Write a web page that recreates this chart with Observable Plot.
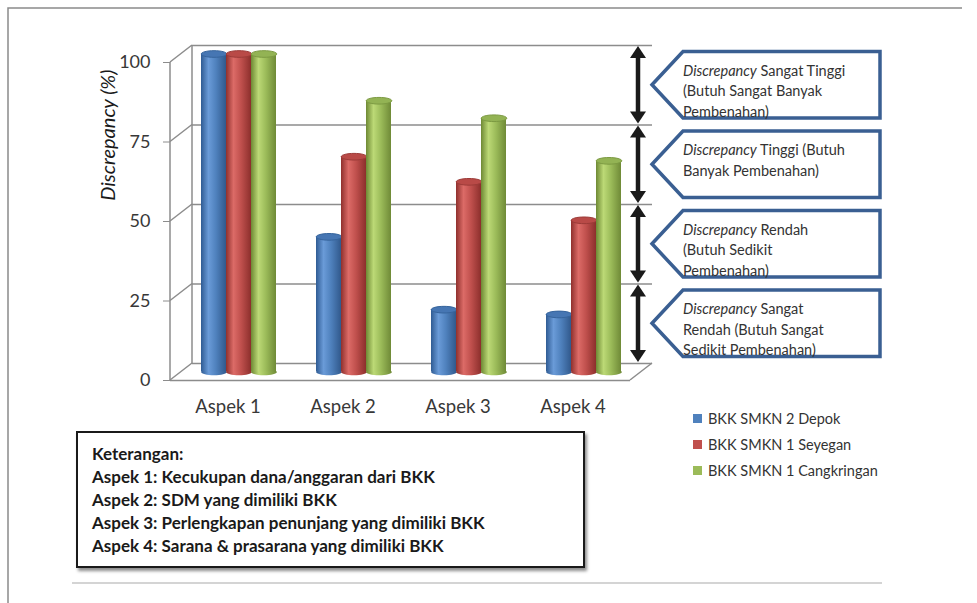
<!DOCTYPE html>
<html>
<head>
<meta charset="utf-8">
<script src="https://cdn.jsdelivr.net/npm/d3@7"></script>
<script src="https://cdn.jsdelivr.net/npm/@observablehq/plot@0.6"></script>
<style>
  html, body { margin: 0; padding: 0; background: #fff; }
  #wrap { position: relative; width: 977px; height: 603px; overflow: hidden; font-family: Lato, "Open Sans", sans-serif; }
  #chart { position: absolute; left: 0; top: 0; }
  #ket { position: absolute; left: 76px; top: 431px; width: 491px; height: 124px; border: 2px solid #1a1a1a;
         box-shadow: 2px 3px 3px rgba(0,0,0,0.45); background: #fff; padding: 9px 0 0 14px;
         font-weight: bold; font-size: 17px; line-height: 23px; color: #1a1a1a; }
  #legend { position: absolute; left: 693px; top: 405px; font-size: 14.5px; color: #333; }
  #legend .row { height: 26px; display: flex; align-items: center; }
  #legend .sw { width: 9px; height: 9px; margin-right: 6px; }
</style>
</head>
<body>
<svg width="0" height="0" style="position:absolute">
  <defs>
    <linearGradient id="g0" x1="0" x2="1" y1="0" y2="0">
      <stop offset="0" stop-color="#2f5b93"/><stop offset="0.3" stop-color="#6a9bd8"/>
      <stop offset="0.6" stop-color="#4f81bd"/><stop offset="1" stop-color="#31598c"/>
    </linearGradient>
    <linearGradient id="g1" x1="0" x2="1" y1="0" y2="0">
      <stop offset="0" stop-color="#8f302d"/><stop offset="0.3" stop-color="#dc6b67"/>
      <stop offset="0.6" stop-color="#c0504d"/><stop offset="1" stop-color="#8c2f2c"/>
    </linearGradient>
    <linearGradient id="g2" x1="0" x2="1" y1="0" y2="0">
      <stop offset="0" stop-color="#6e8934"/><stop offset="0.3" stop-color="#bcd976"/>
      <stop offset="0.6" stop-color="#9bbb59"/><stop offset="1" stop-color="#6f8a37"/>
    </linearGradient>
  </defs>
</svg>
<div id="wrap">
  <div id="chart"></div>
  <div id="legend"></div>
  <div id="ket"></div>
</div>
<script>
// ---------- data ----------
const aspects = ["Aspek 1", "Aspek 2", "Aspek 3", "Aspek 4"];
const seriesNames = ["BKK SMKN 2 Depok", "BKK SMKN 1 Seyegan", "BKK SMKN 1 Cangkringan"];
const depok = [100, 42.5, 19.6, 18.1];
const seyegan = [100, 67.7, 59.8, 47.7];
const cangkringan = [100, 85.3, 79.8, 66.4];
const yTicks = [0, 25, 50, 75, 100];
const seriesColors = ["#4f81bd", "#c0504d", "#9bbb59"];
const topColors = ["#4676b3", "#b94a47", "#93b354"];
const topStrokes = ["#36649c", "#9c3b38", "#7c9a42"];
const calloutLo = [0, 25, 50, 75];
const calloutHi = [25, 50, 75, 100];
const calloutLines = [
  ["Discrepancy Sangat", "Rendah (Butuh Sangat", "Sedikit Pembenahan)"],
  ["Discrepancy Rendah", "(Butuh Sedikit", "Pembenahan)"],
  ["Discrepancy Tinggi (Butuh", "Banyak Pembenahan)"],
  ["Discrepancy Sangat Tinggi", "(Butuh Sangat Banyak", "Pembenahan)"]
];
const yTitle = "Discrepancy (%)";
const keterangan = [
  "Keterangan:",
  "Aspek 1: Kecukupan dana/anggaran dari BKK",
  "Aspek 2: SDM yang dimiliki BKK",
  "Aspek 3: Perlengkapan penunjang yang dimiliki BKK",
  "Aspek 4: Sarana & prasarana yang dimiliki BKK"
];

const valuesBySeries = [depok, seyegan, cangkringan];
const table = aspects.flatMap((a, i) => seriesNames.map((s, j) => ({aspek: a, series: s, si: j, value: valuesBySeries[j][i]})));

// ---------- layout ----------
const W = 977, H = 603, mL = 170, mR = 347, mT = 62, mB = 223;
const DX = 22, DY = -17;      // depth of the 3D box
const BX = 11, BY = -8.5;     // bars sit mid-depth
const GRID = "#8c8c8c";

const ellipse = {
  draw(ctx, size) {
    const rx = Math.sqrt(size / Math.PI), ry = rx * 0.26, k = 0.5523;
    ctx.moveTo(rx, 0);
    ctx.bezierCurveTo(rx, ry * k, rx * k, ry, 0, ry);
    ctx.bezierCurveTo(-rx * k, ry, -rx, ry * k, -rx, 0);
    ctx.bezierCurveTo(-rx, -ry * k, -rx * k, -ry, 0, -ry);
    ctx.bezierCurveTo(rx * k, -ry, rx, -ry * k, rx, 0);
    ctx.closePath();
  }
};

const barMarks = seriesNames.flatMap((s, j) => {
  const d = table.filter(r => r.si === j);
  return [
    Plot.dot(d, {fx: "aspek", x: "series", y: () => 0, r: 12.8, symbol: ellipse, fill: `url(#g${j})`, stroke: "none", dx: BX, dy: BY}),
    Plot.barY(d, {fx: "aspek", x: "series", y: "value", fill: `url(#g${j})`, dx: BX, dy: BY}),
    Plot.dot(d, {fx: "aspek", x: "series", y: "value", r: 12.8, symbol: ellipse, fill: topColors[j], stroke: topStrokes[j], strokeWidth: 1, dx: BX, dy: BY})
  ];
});

const chart = Plot.plot({
  width: W, height: H,
  marginLeft: mL, marginRight: mR, marginTop: mT, marginBottom: mB,
  style: {fontFamily: "Lato, 'Open Sans', sans-serif", fontSize: "18px", color: "#333", background: "transparent", overflow: "visible"},
  fx: {domain: aspects, padding: 0, label: null},
  x: {domain: seriesNames, paddingInner: 0, paddingOuter: 0.74, axis: null},
  y: {domain: [0, 100], label: null},
  marks: [
    Plot.ruleY(yTicks, {y: d => d, dx: DX, dy: DY, stroke: GRID, strokeWidth: 1.5}),
    Plot.ruleY([0], {y: d => d, stroke: GRID, strokeWidth: 1.5}),
    Plot.axisY(yTicks, {tickSize: 7, tickPadding: 13, stroke: GRID, fill: "#383838", label: null, fontSize: 18}),
    Plot.axisFx({anchor: "bottom", tickSize: 0, tickPadding: 19, label: null, fill: "#383838", fontSize: 18.5}),
    ...barMarks
  ]
});
document.getElementById("chart").appendChild(chart);

// ---------- 3D box + annotations drawn from the y scale ----------
const svg = d3.select(chart);
const ysc = chart.scale("y");
const y = d3.scaleLinear(ysc.domain, ysc.range);
const xL = mL, xR = W - mR;
const g = svg.append("g").attr("fill", "none");

// frame of the picture
g.append("path").attr("d", `M8,603 V8 H962`).attr("stroke", "#8a8a8a").attr("stroke-width", 1.5);
g.append("path").attr("d", `M72,583 H882`).attr("stroke", "#d4d4d4").attr("stroke-width", 2);

// left wall and floor
g.append("path").attr("d", `M${xL},${y(0)} V${y(100)}`).attr("stroke", GRID).attr("stroke-width", 1.5);
g.append("path").attr("d", `M${xL + DX},${y(0) + DY} V${y(100) + DY}`).attr("stroke", GRID).attr("stroke-width", 1.5);
yTicks.forEach(t => g.append("path").attr("d", `M${xL},${y(t)} L${xL + DX},${y(t) + DY}`).attr("stroke", GRID).attr("stroke-width", 1.5));
g.append("path").attr("d", `M${xR},${y(0)} L${xR + DX},${y(0) + DY}`).attr("stroke", GRID).attr("stroke-width", 1.5);

// y title
svg.append("text").attr("transform", `translate(107,${y(77)}) rotate(-90)`)
  .attr("text-anchor", "middle").attr("dominant-baseline", "central")
  .attr("font-style", "italic").attr("font-size", 20).attr("fill", "#1a1a1a").text(yTitle);

// arrows and callouts
const ax = xR + 8;
calloutLo.forEach((lo, k) => {
  const hi = calloutHi[k];
  const yt = y(hi) + DY + 1, yb = y(lo) + DY - 1;
  const hw = 8, hh = 12;
  svg.append("path").attr("d", `M${ax},${yt + hh - 1} V${yb - hh + 1}`).attr("stroke", "#1a1a1a").attr("stroke-width", 4.5).attr("fill", "none");
  svg.append("path").attr("d", `M${ax},${yt} L${ax + hw},${yt + hh} L${ax - hw},${yt + hh} Z`).attr("fill", "#1a1a1a").attr("stroke", "none");
  svg.append("path").attr("d", `M${ax},${yb} L${ax + hw},${yb - hh} L${ax - hw},${yb - hh} Z`).attr("fill", "#1a1a1a").attr("stroke", "none");

  const top = y(hi) + DY + 6.5, bot = y(lo) + DY - 6.5, mid = (top + bot) / 2;
  const tipX = xR + DX, bodyX = tipX + 31, rightX = 880;
  svg.append("path").attr("d", `M${tipX},${mid} L${bodyX},${top} H${rightX} V${bot} H${bodyX} Z`)
    .attr("fill", "#fff").attr("stroke", "#3a5f92").attr("stroke-width", 3.5).attr("stroke-linejoin", "miter");
  const t = svg.append("text").attr("font-size", 14.5).attr("fill", "#333").attr("text-anchor", "start");
  calloutLines[k].forEach((line, li) => {
    const ly = top + 24 + li * 20.5;
    if (line.startsWith("Discrepancy")) {
      t.append("tspan").attr("x", bodyX).attr("y", ly).attr("font-style", "italic").text("Discrepancy");
      t.append("tspan").text(line.slice("Discrepancy".length));
    } else {
      t.append("tspan").attr("x", bodyX).attr("y", ly).text(line);
    }
  });
});

// legend
const leg = d3.select("#legend");
seriesNames.forEach((s, j) => {
  const row = leg.append("div").attr("class", "row");
  row.append("div").attr("class", "sw").style("background", seriesColors[j]);
  row.append("span").text(s);
});
// keterangan
const ket = d3.select("#ket");
keterangan.forEach(line => ket.append("div").text(line));
</script>
</body>
</html>
